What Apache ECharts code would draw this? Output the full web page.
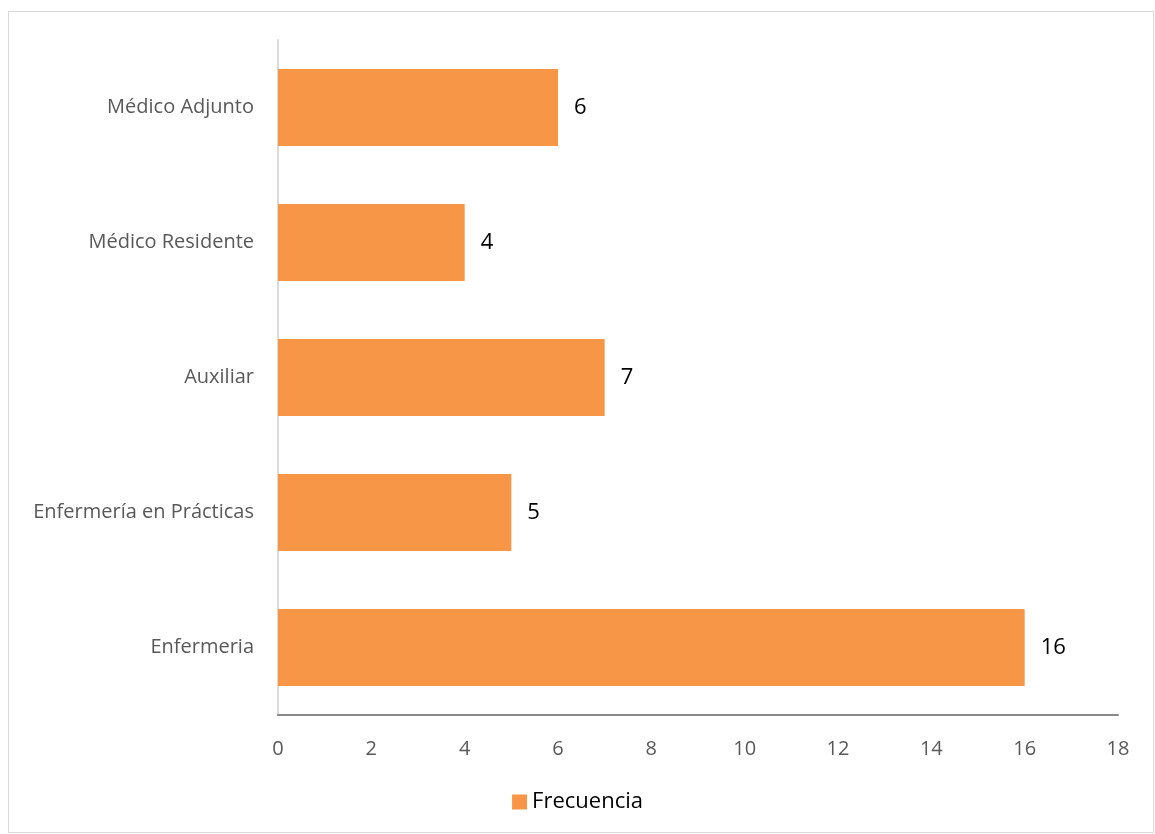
<!DOCTYPE html>
<html><head><meta charset="utf-8">
<script src="https://cdn.jsdelivr.net/npm/echarts@6/dist/echarts.min.js"></script>
<style>
html,body{margin:0;padding:0;background:#fff;}
#frame{position:absolute;left:8px;top:11px;width:1146px;height:822px;border:1px solid #d9d9d9;box-sizing:border-box;}
#c{position:absolute;left:0;top:0;width:1155px;height:834px;}
</style></head>
<body>
<div id="frame"></div>
<div id="c"></div>
<script>
const categories = ["Enfermeria", "Enfermería en Prácticas", "Auxiliar", "Médico Residente", "Médico Adjunto"];
const frecuencia = [16, 5, 7, 4, 6];
const xTicks = {min: 0, max: 18, interval: 2};
const seriesName = "Frecuencia";

const chart = echarts.init(document.getElementById('c'), null, {renderer: 'canvas'});
chart.setOption({
  animation: false,
  textStyle: {fontFamily: "Open Sans"},
  grid: {left: 278, right: 37, top: 40, bottom: 119, containLabel: false},
  legend: {
    data: [seriesName], bottom: 16, left: 'center',
    icon: 'rect', itemWidth: 15, itemHeight: 15, itemGap: 5,
    textStyle: {fontSize: 22, color: '#000', fontFamily: "Open Sans"}
  },
  xAxis: {
    type: 'value', min: xTicks.min, max: xTicks.max, interval: xTicks.interval,
    axisLine: {show: true, lineStyle: {color: '#898989', width: 2}},
    axisTick: {show: false},
    splitLine: {show: false},
    axisLabel: {fontSize: 20, color: '#595959', margin: 24}
  },
  yAxis: {
    type: 'category', data: categories,
    axisLine: {show: true, lineStyle: {color: '#d9d9d9', width: 2}},
    axisTick: {show: false},
    axisLabel: {fontSize: 20, color: '#595959', margin: 24}
  },
  series: [{
    name: seriesName, type: 'bar', data: frecuencia,
    barWidth: '57%',
    itemStyle: {color: '#f79646'},
    label: {show: true, position: 'right', distance: 16, fontSize: 22, color: '#000'}
  }]
});
</script>
</body></html>
